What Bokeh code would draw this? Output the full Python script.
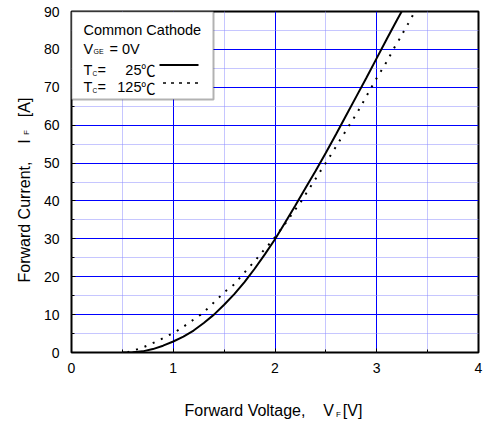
import math
from bokeh.plotting import figure
from bokeh.models import FixedTicker, Label, BoxAnnotation
from bokeh.embed import file_html
from bokeh.resources import INLINE

# ---- data ----
x_ticks = [0, 1, 2, 3, 4]
x_minor = [0.5, 1.5, 2.5, 3.5]
y_ticks = [0, 10, 20, 30, 40, 50, 60, 70, 80, 90]
y_minor = [5, 15, 25, 35, 45, 55, 65, 75, 85]

vf_25 = [0.5, 0.6, 0.7, 0.8, 0.9, 1.0, 1.1, 1.2, 1.3, 1.4, 1.5, 1.6, 1.7, 1.8, 1.9, 2.0,
         2.1, 2.2, 2.3, 2.4, 2.5, 2.6, 2.7, 2.8, 2.9, 3.0, 3.1, 3.2, 3.245]
if_25 = [0.0, 0.05, 0.3, 0.9, 1.8, 2.9, 4.2, 5.8, 7.8, 10.0, 12.6, 15.4, 18.6, 22.1, 25.9, 29.9,
         34.3, 38.8, 43.4, 48.0, 52.7, 57.6, 62.6, 67.6, 72.6, 77.7, 82.8, 87.8, 90.0]

vf_125 = [0.55, 0.6, 0.68, 0.76, 0.85, 0.93, 1.02, 1.10, 1.18, 1.27, 1.35, 1.43, 1.51, 1.60,
          1.67, 1.74, 1.81, 1.88, 1.95, 2.01, 2.1, 2.19, 2.25, 2.35, 2.45, 2.55, 2.61, 2.71,
          2.81, 2.90, 2.99, 3.09, 3.18, 3.23, 3.27, 3.32, 3.37]
if_125 = [0.0, 0.5, 1.1, 2.0, 3.1, 4.2, 5.4, 6.8, 8.3, 10.0, 11.9, 14.0, 16.1, 18.0,
          20.2, 22.3, 24.4, 26.7, 28.8, 30.8, 34.0, 37.4, 39.6, 43.8, 48.0, 52.2, 54.8, 59.1,
          63.4, 67.7, 72.0, 76.4, 80.8, 83.0, 85.0, 87.3, 89.8]

# ---- layout helpers (canvas pixel -> data) ----
FL, FR, FT, FB = 71.0, 478.0, 11.0, 352.0
def X(px):
    return (px - FL) / (FR - FL) * 4.0
def Y(py):
    return (FB - py) / (FB - FT) * 90.0

FONT = "Liberation Sans"
NB = "\u00a0"

p = figure(width=490, height=424, output_backend="svg", toolbar_location=None,
           x_range=(0, 4), y_range=(0, 90), min_border_left=71, min_border_right=12,
           min_border_top=11, min_border_bottom=72)
p.background_fill_color = "white"
p.border_fill_color = "white"
p.outline_line_color = "black"
p.outline_line_width = 2

p.xaxis.ticker = FixedTicker(ticks=x_ticks, minor_ticks=x_minor)
p.yaxis.ticker = FixedTicker(ticks=y_ticks, minor_ticks=y_minor)
for ax in (p.xaxis, p.yaxis):
    ax.axis_line_color = None
    ax.major_tick_in = 4
    ax.major_tick_out = 0
    ax.minor_tick_in = 3
    ax.minor_tick_out = 0
    ax.major_tick_line_color = "black"
    ax.minor_tick_line_color = "black"
    ax.major_label_text_font = FONT
    ax.major_label_text_font_size = "14px"
    ax.major_label_text_color = "black"
p.xaxis.major_label_standoff = 10
p.yaxis.major_label_standoff = 12

for g in (p.xgrid, p.ygrid):
    g.grid_line_color = "#0000ff"
    g.grid_line_width = 1
    g.minor_grid_line_color = "#8c8cff"
    g.minor_grid_line_dash = "1 1"
    g.minor_grid_line_width = 1
p.xgrid.ticker = FixedTicker(ticks=x_ticks, minor_ticks=x_minor)
p.ygrid.ticker = FixedTicker(ticks=y_ticks, minor_ticks=y_minor)

p.line(vf_25, if_25, line_color="black", line_width=2)
p.line(vf_125, if_125, line_color="black", line_width=2, line_dash="2 7")

# ---- legend box ----
p.add_layout(BoxAnnotation(left=0, right=X(213), top=90, bottom=Y(99),
                           fill_color="white", fill_alpha=1.0,
                           line_color="black", line_width=2))

def lab(text, px, py, size, font=FONT, align="left"):
    p.add_layout(Label(x=X(px), y=Y(py), text=text, text_font=font,
                       text_font_size=size, text_color="black",
                       text_align=align, text_baseline="alphabetic"))

lab("Common Cathode", 83, 29.5, "14.5px")
lab("V", 83, 48, "14.5px")
lab("GE", 93, 50.5, "7px")
lab("= 0V", 109, 48, "14.5px")
lab("T", 83, 69, "14.5px")
lab("C", 92, 72.5, "6.5px")
lab("=", 97, 69, "14.5px")
lab("25", 141, 69, "14.5px", align="right")
lab("\u2103", 140.5, 69, "14.5px", font="Noto Sans CJK JP")
lab("T", 83, 86.5, "14.5px")
lab("C", 92, 90, "6.5px")
lab("=", 97, 86.5, "14.5px")
lab("125", 141, 86.5, "14.5px", align="right")
lab("\u2103", 140.5, 86.5, "14.5px", font="Noto Sans CJK JP")

s1 = p.segment(x0=[X(159)], y0=[Y(64.5)], x1=[X(198)], y1=[Y(64.5)],
               line_color="black", line_width=2)
s1.level = "overlay"
s2 = p.segment(x0=[X(162.5)], y0=[Y(82.5)], x1=[X(200)], y1=[Y(82.5)],
               line_color="black", line_width=1.5, line_dash="3 5")
s2.level = "overlay"

# ---- axis titles (side panels, canvas units) ----
def side(text, px, py, size, place, angle=0.0):
    p.add_layout(Label(x=px, y=py, x_units="canvas", y_units="canvas", text=text,
                       text_font=FONT, text_font_size=size, text_color="black",
                       angle=angle, text_align="left", text_baseline="alphabetic"),
                 place)

side("Forward Voltage," + NB * 4 + "V" + NB * 2 + "[V]", 184, 410, "16px", "below")
side("F", 335.5, 413.5, "8px", "right")
side("Forward Current," + NB * 4 + "I" + NB * 5 + "[A]", 23.5, 282, "16px", "left",
     angle=math.pi / 2)
side("F", 25.5, 134.5, "8px", "above", angle=math.pi / 2)

open("out.html", "w").write(file_html(p, INLINE))
